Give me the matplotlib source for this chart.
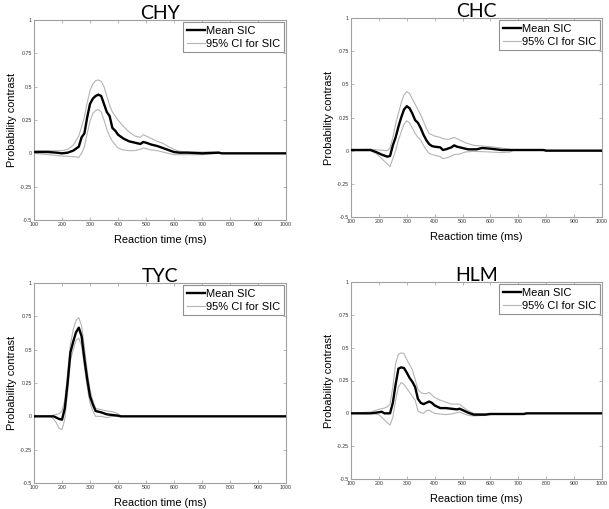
import matplotlib
matplotlib.use("Agg")
import matplotlib.pyplot as plt

# ---- data (x in ms, y = probability contrast) ----
chy_mean_x = [100, 150, 180, 200, 220, 240, 260, 270, 280, 290, 300, 310, 320, 330, 340, 350, 360, 370, 380, 390,
              400, 420, 440, 460, 480, 490, 500, 520, 540, 560, 580, 600, 620, 650, 700, 760, 770, 1000]
chy_mean_y = [0.01, 0.01, 0.005, 0.0, 0.005, 0.02, 0.05, 0.12, 0.15, 0.27, 0.37, 0.41, 0.43, 0.44, 0.43, 0.37, 0.31,
              0.28, 0.19, 0.17, 0.14, 0.11, 0.09, 0.08, 0.07, 0.085, 0.08, 0.065, 0.055, 0.04, 0.025, 0.01, 0.005,
              0.005, 0.0, 0.005, 0.0, 0.0]
chy_ci_x = [100, 150, 200, 220, 240, 260, 270, 280, 290, 300, 310, 320, 330, 340, 350, 360, 370, 380, 400, 420,
            440, 460, 480, 490, 500, 520, 540, 560, 580, 600, 620, 650, 700, 760]
chy_upper = [0.02, 0.02, 0.02, 0.03, 0.06, 0.13, 0.2, 0.27, 0.38, 0.47, 0.52, 0.545, 0.55, 0.54, 0.5, 0.43, 0.36,
             0.31, 0.25, 0.2, 0.16, 0.13, 0.12, 0.14, 0.13, 0.11, 0.09, 0.075, 0.05, 0.03, 0.015, 0.01, 0.01, 0.01]
chy_lower = [0.0, -0.01, -0.02, -0.022, -0.025, -0.03, 0.0, 0.05, 0.15, 0.24, 0.3, 0.32, 0.33, 0.31, 0.25, 0.18,
             0.13, 0.09, 0.04, 0.025, 0.02, 0.02, 0.03, 0.04, 0.035, 0.025, 0.02, 0.01, 0.0, -0.01, -0.01, -0.01,
             -0.01, 0.0]

chc_mean_x = [100, 170, 190, 210, 230, 240, 250, 260, 270, 280, 290, 300, 310, 320, 330, 340, 350, 360, 370, 380,
              390, 400, 420, 430, 440, 460, 470, 480, 500, 520, 550, 570, 600, 640, 680, 790, 800, 1000]
chc_mean_y = [0.005, 0.005, -0.01, -0.03, -0.045, -0.04, 0.04, 0.1, 0.18, 0.25, 0.31, 0.335, 0.32, 0.28, 0.23,
              0.21, 0.17, 0.12, 0.08, 0.05, 0.035, 0.03, 0.025, 0.005, 0.01, 0.025, 0.04, 0.03, 0.02, 0.01, 0.01,
              0.02, 0.015, 0.005, 0.005, 0.005, 0.0, 0.0]
chc_ci_x = [100, 170, 190, 210, 230, 240, 250, 260, 270, 280, 290, 300, 310, 320, 330, 340, 350, 360, 370, 380,
            400, 420, 430, 450, 470, 490, 510, 540, 600, 640, 670, 680]
chc_upper = [0.005, 0.01, 0.007, 0.003, 0.0, 0.02, 0.1, 0.2, 0.28, 0.36, 0.42, 0.445, 0.43, 0.39, 0.35, 0.31,
             0.27, 0.22, 0.17, 0.13, 0.11, 0.1, 0.09, 0.085, 0.1, 0.08, 0.06, 0.04, 0.03, 0.02, 0.01, 0.005]
chc_lower = [0.0, 0.0, -0.02, -0.06, -0.1, -0.12, -0.06, 0.0, 0.08, 0.14, 0.2, 0.225, 0.21, 0.17, 0.13, 0.1,
             0.08, 0.04, 0.005, -0.02, -0.035, -0.045, -0.06, -0.05, -0.03, -0.025, -0.01, -0.005, -0.01, -0.015,
             -0.01, 0.0]

tyc_mean_x = [100, 170, 180, 190, 200, 210, 220, 230, 240, 250, 260, 270, 280, 290, 300, 310, 320, 340, 360, 380,
              400, 410, 1000]
tyc_mean_y = [0.0, 0.0, -0.01, -0.02, -0.025, 0.06, 0.25, 0.48, 0.56, 0.63, 0.665, 0.6, 0.43, 0.28, 0.15, 0.09,
              0.04, 0.03, 0.015, 0.01, 0.005, 0.0, 0.0]
tyc_ci_x = [100, 160, 170, 180, 190, 200, 210, 220, 230, 240, 250, 260, 270, 280, 290, 300, 310, 320, 340, 360,
            380, 400, 410]
tyc_upper = [0.0, 0.0, 0.01, 0.015, 0.02, 0.04, 0.12, 0.32, 0.54, 0.65, 0.72, 0.74, 0.68, 0.52, 0.34, 0.2, 0.12,
             0.06, 0.05, 0.04, 0.035, 0.02, 0.0]
tyc_lower = [0.0, 0.0, -0.02, -0.05, -0.09, -0.1, -0.02, 0.18, 0.42, 0.5, 0.57, 0.585, 0.53, 0.37, 0.22, 0.1,
             0.04, 0.0, 0.0, -0.01, 0.0, 0.0, 0.0]

hlm_mean_x = [100, 170, 190, 210, 220, 240, 250, 260, 270, 280, 290, 300, 310, 320, 330, 340, 350, 360, 370, 380,
              390, 400, 420, 440, 460, 480, 490, 500, 520, 540, 580, 600, 720, 730, 1000]
hlm_mean_y = [0.0, 0.0, 0.005, 0.012, 0.0, 0.0, 0.08, 0.22, 0.34, 0.35, 0.345, 0.31, 0.27, 0.24, 0.2, 0.11, 0.08,
              0.07, 0.08, 0.09, 0.08, 0.06, 0.04, 0.04, 0.035, 0.03, 0.035, 0.025, 0.005, -0.01, -0.01, -0.005,
              -0.005, 0.0, 0.0]
hlm_ci_x = [100, 170, 200, 220, 230, 240, 250, 260, 270, 280, 290, 300, 310, 320, 330, 340, 350, 360, 370, 380,
            390, 400, 420, 440, 460, 480, 490, 500, 520, 540, 580, 600]
hlm_upper = [0.0, 0.01, 0.03, 0.04, 0.05, 0.07, 0.2, 0.38, 0.45, 0.46, 0.455, 0.41, 0.37, 0.33, 0.26, 0.18, 0.16,
             0.15, 0.15, 0.16, 0.14, 0.12, 0.1, 0.085, 0.07, 0.07, 0.07, 0.05, 0.02, 0.0, -0.005, 0.0]
hlm_lower = [0.0, 0.0, -0.01, -0.05, -0.07, -0.09, -0.03, 0.1, 0.2, 0.235, 0.22, 0.19, 0.16, 0.13, 0.1, 0.02,
             0.005, 0.0, 0.02, 0.025, 0.01, 0.0, -0.005, -0.01, -0.005, 0.005, 0.01, 0.0, -0.015, -0.02, -0.015,
             -0.01]

panels = [
    ("CHY", chy_mean_x, chy_mean_y, chy_ci_x, chy_upper, chy_lower),
    ("CHC", chc_mean_x, chc_mean_y, chc_ci_x, chc_upper, chc_lower),
    ("TYC", tyc_mean_x, tyc_mean_y, tyc_ci_x, tyc_upper, tyc_lower),
    ("HLM", hlm_mean_x, hlm_mean_y, hlm_ci_x, hlm_upper, hlm_lower),
]

x_ticks = list(range(100, 1001, 100))
y_ticks = [-0.5, -0.25, 0, 0.25, 0.5, 0.75, 1]
y_tick_labels = ["-0.5", "-0.25", "0", "0.25", "0.5", "0.75", "1"]

W, H = 609, 509
boxes_px = [(34, 20, 286, 220), (351, 18, 602, 217), (34, 283, 286, 483), (351, 282, 602, 479)]

plt.rcParams["font.family"] = ["Liberation Sans", "DejaVu Sans"]

fig = plt.figure(figsize=(W / 100, H / 100), dpi=100)
fig.patch.set_facecolor("white")

for (title, mx, my, cx, cu, cl), (l, t, r, b) in zip(panels, boxes_px):
    ax = fig.add_axes([l / W, (H - b) / H, (r - l) / W, (b - t) / H])
    ax.plot(mx, my, color="black", lw=1.7, label="Mean SIC", zorder=3)
    ax.plot(cx, cu, color="#b4b4b4", lw=0.8, label="95% CI for SIC", zorder=2)
    ax.plot(cx, cl, color="#b4b4b4", lw=0.8, zorder=2)

    ax.set_xlim(100, 1000)
    ax.set_ylim(-0.5, 1)
    ax.set_xticks(x_ticks)
    ax.set_yticks(y_ticks)
    ax.set_yticklabels(y_tick_labels)
    ax.tick_params(direction="in", length=2, width=0.5, labelsize=3.8, colors="#9a9a9a",
                   labelcolor="#333333", pad=1.5, top=True, right=True)
    for sp in ax.spines.values():
        sp.set_color("#a0a0a0")
        sp.set_linewidth(0.8)

    ax.set_xlabel("Reaction time (ms)", fontsize=7.9, labelpad=6)
    ax.set_ylabel("Probability contrast", fontsize=7.9, labelpad=2)
    ax.set_title(title, fontsize=14, family=["Lato", "DejaVu Sans"], pad=0.5)

    leg = ax.legend(loc="upper right", fontsize=8, handlelength=1.6, handletextpad=0.15,
                    borderpad=0.3, labelspacing=0.3, borderaxespad=0.2, fancybox=False, framealpha=1)
    leg.get_frame().set_edgecolor("#909090")
    leg.get_frame().set_linewidth(0.8)

fig.savefig("out.png", dpi=100)
